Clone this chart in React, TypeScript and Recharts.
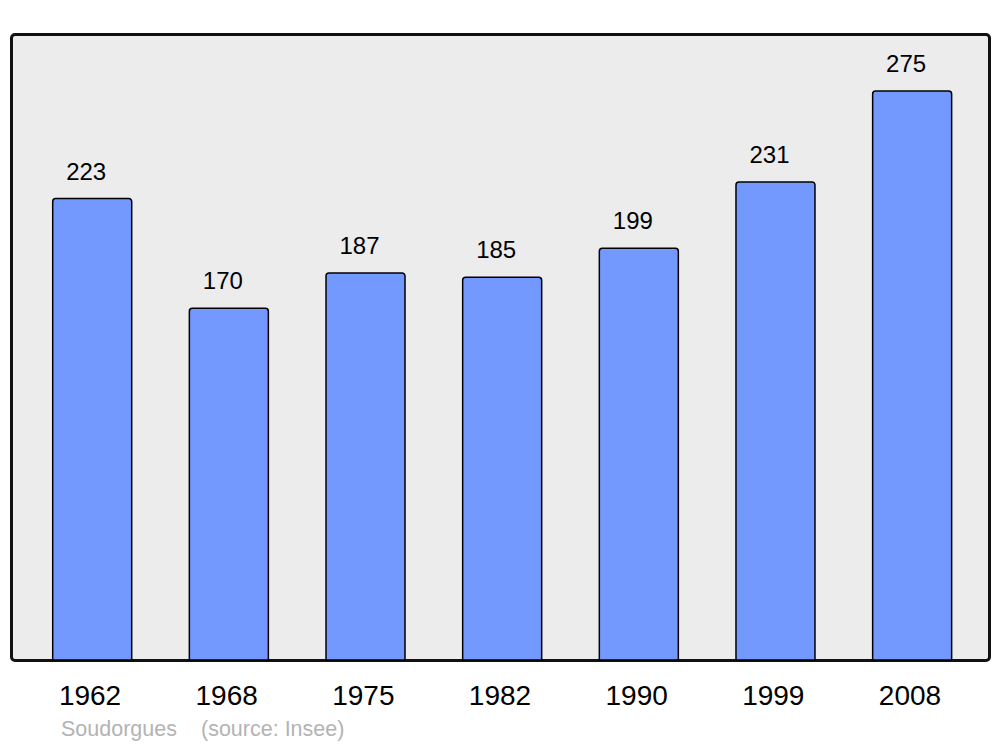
import { Bar, BarChart, LabelList, XAxis, YAxis } from 'recharts';

const years = ['1962', '1968', '1975', '1982', '1990', '1999', '2008'];
const population = [223, 170, 187, 185, 199, 231, 275];
const yMax = 302.5;

const data = years.map((year, i) => ({ year, population: population[i] }));

const font = '"Liberation Sans", Arial, sans-serif';

function BarValue(props: any) {
  const { x, y, width, value } = props;
  return (
    <text x={Number(x) + Number(width) / 2 - 6} y={Number(y) - 19} textAnchor="middle" fontSize={24} fontFamily={font} fill="#000">
      {value}
    </text>
  );
}

function YearTick(props: any) {
  const { x, y, payload } = props;
  return (
    <text x={x - 2} y={y + 45} textAnchor="middle" fontSize={28} fontFamily={font} fill="#000">
      {payload.value}
    </text>
  );
}

export default function App() {
  return (
    <div style={{ position: 'absolute', left: 0, top: 0, width: 1000, height: 747, background: '#fff', fontFamily: font }}>
      <div
        style={{
          position: 'absolute',
          left: 9.5,
          top: 32.5,
          width: 981,
          height: 629,
          boxSizing: 'border-box',
          border: '3px solid #111',
          borderRadius: 5,
          background: '#ececec',
        }}
      />
      <div style={{ position: 'absolute', left: 0, top: 0 }}>
        <BarChart width={1000} height={747} data={data} margin={{ top: 34, right: 11, bottom: 0, left: 11 }}>
          <XAxis
            dataKey="year"
            axisLine={false}
            tickLine={false}
            tickSize={0}
            tickMargin={0}
            padding={{ left: 12.7, right: 8.7 }}
            tick={<YearTick />}
            interval={0}
            height={87}
          />
          <YAxis hide domain={[0, yMax]} width={0} />
          <Bar dataKey="population" barSize={79} fill="#7399ff" stroke="#000" strokeWidth={1.5} radius={[3, 3, 0, 0]} isAnimationActive={false}>
            <LabelList dataKey="population" content={<BarValue />} />
          </Bar>
        </BarChart>
      </div>
      <div style={{ position: 'absolute', left: 61, top: 717, fontSize: 21.5, color: '#b3b3b3', whiteSpace: 'pre' }}>
        Soudorgues
      </div>
      <div style={{ position: 'absolute', left: 201, top: 717, fontSize: 21.5, color: '#b3b3b3', whiteSpace: 'pre' }}>
        (source: Insee)
      </div>
    </div>
  );
}
